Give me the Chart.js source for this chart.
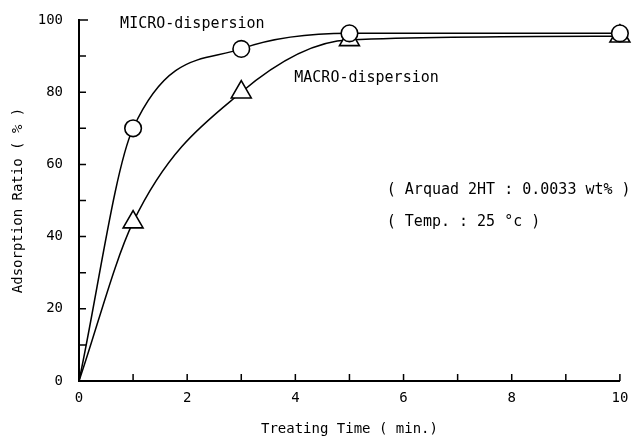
<!DOCTYPE html>
<html>
<head>
<meta charset="utf-8">
<script src="https://cdn.jsdelivr.net/npm/chart.js@4/dist/chart.umd.min.js"></script>
<style>
  html, body { margin: 0; padding: 0; background: #fff; }
  #wrap { width: 633px; height: 438px; }
</style>
</head>
<body>
<div id="wrap"><canvas id="chart"></canvas></div>
<script>
// data
const times = [0, 1, 3, 5, 10];
const microRatio = [0, 70, 92, 96.3, 96.3];
const macroRatio = [0, 44, 80, 94.5, 95.5];
const xTicks = [0, 2, 4, 6, 8, 10];
const yTicks = [0, 20, 40, 60, 80, 100];

// text labels placed at data coordinates (left edge, middle)
const notes = [
    { text: 'MICRO-dispersion', x: 0.76, y: 98.8 },
    { text: 'MACRO-dispersion', x: 3.98, y: 84 },
    { text: '( Arquad 2HT : 0.0033 wt% )', x: 5.69, y: 52.8 },
    { text: '( Temp. : 25 \u00b0c )', x: 5.69, y: 44 }
];

const FONT = '"DejaVu Sans Mono", "Liberation Mono", monospace';

function pts(ys) {
    return times.map((t, i) => ({ x: t, y: ys[i] }));
}

// inward tick marks + text notes
const extras = {
    id: 'extras',
    afterDatasetsDraw(chart) {
        const { ctx, scales: { x, y } } = chart;
        ctx.save();
        ctx.strokeStyle = '#000';
        ctx.lineWidth = 1.5;
        ctx.beginPath();
        for (let v = 10; v <= 100; v += 10) {
            const py = y.getPixelForValue(v);
            ctx.moveTo(x.left, py);
            ctx.lineTo(x.left + (v === 100 ? 9 : 7), py);
        }
        for (let v = 1; v <= 10; v += 1) {
            const px = x.getPixelForValue(v);
            ctx.moveTo(px, y.bottom);
            ctx.lineTo(px, y.bottom - 7);
        }
        ctx.stroke();

        ctx.fillStyle = '#000';
        ctx.font = '15px ' + FONT;
        ctx.textAlign = 'left';
        ctx.textBaseline = 'middle';
        notes.forEach(n => {
            ctx.fillText(n.text, x.getPixelForValue(n.x), y.getPixelForValue(n.y));
        });
        ctx.restore();
    }
};

const ctx = document.getElementById('chart').getContext('2d');
new Chart(ctx, {
    type: 'scatter',
    data: {
        datasets: [{
            label: 'MICRO-dispersion',
            data: pts(microRatio),
            showLine: true,
            cubicInterpolationMode: 'monotone',
            borderColor: '#000',
            borderWidth: 1.5,
            pointStyle: 'circle',
            pointRadius: [0, 8.3, 8.3, 8.3, 8.3],
            pointBackgroundColor: '#fff',
            pointBorderColor: '#000',
            pointBorderWidth: 1.6,
            clip: false
        }, {
            label: 'MACRO-dispersion',
            data: pts(macroRatio),
            showLine: true,
            cubicInterpolationMode: 'monotone',
            borderColor: '#000',
            borderWidth: 1.5,
            pointStyle: 'triangle',
            pointRadius: [0, 11.5, 11.5, 11.5, 11.5],
            pointBackgroundColor: '#fff',
            pointBorderColor: '#000',
            pointBorderWidth: 1.6,
            clip: false
        }]
    },
    options: {
        responsive: true,
        maintainAspectRatio: false,
        animation: false,
        events: [],
        layout: { padding: { top: 20, right: 11, left: 0, bottom: 0 } },
        plugins: {
            legend: { display: false },
            tooltip: { enabled: false }
        },
        scales: {
            x: {
                type: 'linear',
                min: 0,
                max: 10,
                afterFit: s => { s.height = 57; s.paddingLeft = 0; s.paddingRight = 0; },
                afterBuildTicks: s => { s.ticks = xTicks.map(v => ({ value: v })); },
                grid: { display: false, drawTicks: false },
                border: { display: true, color: '#000', width: 2 },
                ticks: { color: '#000', padding: 9, maxRotation: 0, font: { family: FONT, size: 14 } },
                title: {
                    display: true,
                    text: 'Treating Time ( min.)',
                    color: '#000',
                    padding: { top: 0, bottom: 0 },
                    font: { family: FONT, size: 14 }
                }
            },
            y: {
                min: 0,
                max: 100,
                afterFit: s => { s.width = 79; s.paddingTop = 0; s.paddingBottom = 0; },
                afterBuildTicks: s => { s.ticks = yTicks.map(v => ({ value: v })); },
                grid: { display: false, drawTicks: false },
                border: { display: true, color: '#000', width: 2 },
                ticks: { color: '#000', padding: 16, font: { family: FONT, size: 14 } },
                title: {
                    display: true,
                    text: 'Adsorption Ratio ( % )',
                    color: '#000',
                    padding: { top: 10, bottom: 0 },
                    font: { family: FONT, size: 14 }
                }
            }
        }
    },
    plugins: [extras]
});
</script>
</body>
</html>
